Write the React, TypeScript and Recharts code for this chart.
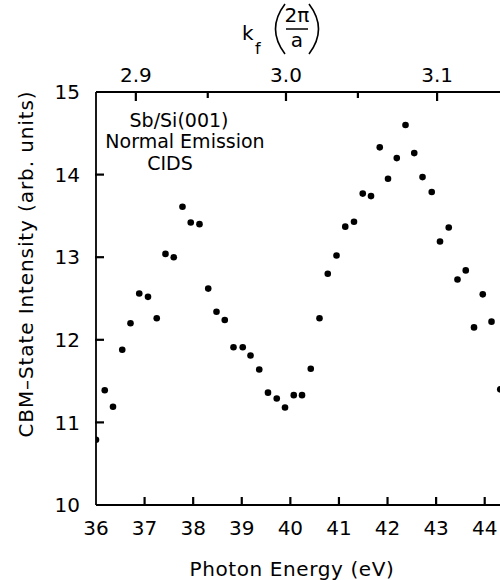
import React from 'react';
import { ScatterChart, Scatter, XAxis, YAxis } from 'recharts';

const photonEnergy = [
  36.0, 36.18, 36.35, 36.54, 36.71, 36.89, 37.07, 37.25, 37.43, 37.6, 37.78, 37.95,
  38.13, 38.31, 38.48, 38.65, 38.83, 39.02, 39.18, 39.36, 39.54, 39.72, 39.89, 40.07,
  40.24, 40.42, 40.6, 40.77, 40.95, 41.13, 41.31, 41.49, 41.66, 41.84, 42.01, 42.19,
  42.37, 42.55, 42.72, 42.91, 43.08, 43.26, 43.44, 43.61, 43.78, 43.96, 44.14, 44.32,
];
const intensity = [
  10.79, 11.39, 11.19, 11.88, 12.2, 12.56, 12.52, 12.26, 13.04, 13.0, 13.61, 13.42,
  13.4, 12.62, 12.34, 12.24, 11.91, 11.91, 11.81, 11.64, 11.36, 11.29, 11.18, 11.33,
  11.33, 11.65, 12.26, 12.8, 13.02, 13.37, 13.43, 13.77, 13.74, 14.33, 13.95, 14.2,
  14.6, 14.26, 13.97, 13.79, 13.19, 13.36, 12.73, 12.84, 12.15, 12.55, 12.22, 11.4,
];
const bottomTicks = [36, 37, 38, 39, 40, 41, 42, 43, 44];
const leftTicks = [10, 11, 12, 13, 14, 15];
// k_f axis ticks (positions expressed in photon energy), majors labelled, minors blank
const kTickEnergy = [36.82, 38.3, 39.91, 41.39, 43.02];
const kTickLabels = ['2.9', '', '3.0', '', '3.1'];
const annotationLines = ['Sb/Si(001)', 'Normal Emission', 'CIDS'];

const data = photonEnergy.map((e, i) => ({ e, v: intensity[i] }));

const FONT = 'DejaVu Sans';
const X_DOMAIN: [number, number] = [36, 44.5];
const Y_DOMAIN: [number, number] = [10, 15];
const BOTTOM_MARGIN = 16;
const TOP_MARGIN = 10;
const LEFT_MARGIN = 16;
const TICK_W = 2.2;

const renderDot = (props: any) => (
  <circle cx={props.cx} cy={props.cy} r={3.3} fill="#000" />
);
const renderNothing = () => <g />;

const BottomTick = (props: any) => {
  const { x, y, payload } = props;
  const axisY = y - BOTTOM_MARGIN;
  const showLine = payload.value !== X_DOMAIN[0];
  return (
    <g>
      {showLine && <line x1={x} x2={x} y1={axisY + 1} y2={axisY - 8} stroke="#000" strokeWidth={TICK_W} />}
      <text x={x} y={y + 14.2} textAnchor="middle" fontFamily={FONT} fontSize={20} fill="#000">
        {payload.value}
      </text>
    </g>
  );
};

const TopTick = (props: any) => {
  const { x, y, payload } = props;
  const axisY = y + TOP_MARGIN;
  const label = kTickLabels[kTickEnergy.indexOf(payload.value)] ?? '';
  const len = label ? 9 : 6;
  return (
    <g>
      <line x1={x} x2={x} y1={axisY - 1} y2={axisY + len} stroke="#000" strokeWidth={TICK_W} />
      <text x={x} y={y} textAnchor="middle" fontFamily={FONT} fontSize={20} fill="#000">
        {label}
      </text>
    </g>
  );
};

const LeftTick = (props: any) => {
  const { x, y, payload } = props;
  const axisX = x + LEFT_MARGIN;
  const showLine = payload.value !== Y_DOMAIN[0] && payload.value !== Y_DOMAIN[1];
  return (
    <g>
      {showLine && <line x1={axisX - 1} x2={axisX + 8} y1={y} y2={y} stroke="#000" strokeWidth={TICK_W} />}
      <text x={x} y={y + 7.1} textAnchor="end" fontFamily={FONT} fontSize={20} fill="#000">
        {payload.value}
      </text>
    </g>
  );
};

const topTitle = () => (
  <g fontFamily={FONT} fill="#000">
    <text x={242} y={40} fontSize={20}>k</text>
    <text x={255} y={54} fontSize={16}>f</text>
    <path d="M285,4 Q266,29 285,54" fill="none" stroke="#000" strokeWidth={1.6} />
    <text x={297} y={22} fontSize={20} textAnchor="middle">2π</text>
    <line x1={286} x2={308} y1={29} y2={29} stroke="#000" strokeWidth={1.5} />
    <text x={297} y={47} fontSize={20} textAnchor="middle">a</text>
    <path d="M309,4 Q328,29 309,54" fill="none" stroke="#000" strokeWidth={1.6} />
    <text x={179} y={127} fontSize={19} textAnchor="middle">{annotationLines[0]}</text>
    <text x={185} y={148} fontSize={19} textAnchor="middle">{annotationLines[1]}</text>
    <text x={170} y={170} fontSize={19} textAnchor="middle">{annotationLines[2]}</text>
  </g>
);

const bottomTitle = () => (
  <text x={292} y={576} textAnchor="middle" fontFamily={FONT} fontSize={20} letterSpacing={0.6} fill="#000">
    Photon Energy (eV)
  </text>
);

const leftTitle = () => (
  <text
    transform="translate(33,264) rotate(-90)"
    textAnchor="middle"
    fontFamily={FONT}
    fontSize={20}
    letterSpacing={0.9}
    fill="#000"
  >
    CBM–State Intensity (arb. units)
  </text>
);

const axisLineStyle = { stroke: '#000', strokeWidth: 1.8 };

export default function App() {
  return (
    <div style={{ position: 'absolute', left: 0, top: 0, width: 500, height: 580, overflow: 'hidden', background: '#fff' }}>
      <ScatterChart width={509} height={580} margin={{ top: 42, right: 0, bottom: 25, left: 16 }}>
        <XAxis
          xAxisId="bottom"
          dataKey="e"
          type="number"
          domain={X_DOMAIN}
          allowDataOverflow
          ticks={bottomTicks}
          interval={0}
          height={50}
          tickSize={0}
          tickLine={false}
          tickMargin={BOTTOM_MARGIN}
          axisLine={axisLineStyle}
          tick={BottomTick}
          label={bottomTitle}
        />
        <XAxis
          xAxisId="top"
          dataKey="e"
          orientation="top"
          type="number"
          domain={X_DOMAIN}
          allowDataOverflow
          ticks={kTickEnergy}
          interval={0}
          height={50}
          tickSize={0}
          tickLine={false}
          tickMargin={TOP_MARGIN}
          axisLine={axisLineStyle}
          tick={TopTick}
          label={topTitle}
        />
        <YAxis
          yAxisId="left"
          dataKey="v"
          type="number"
          domain={Y_DOMAIN}
          allowDataOverflow
          ticks={leftTicks}
          interval={0}
          width={80}
          tickSize={0}
          tickLine={false}
          tickMargin={LEFT_MARGIN}
          axisLine={axisLineStyle}
          tick={LeftTick}
          label={leftTitle}
        />
        <Scatter
          data={data}
          xAxisId="top"
          yAxisId="left"
          dataKey="v"
          shape={renderNothing}
          legendType="none"
          isAnimationActive={false}
        />
        <Scatter
          data={data}
          xAxisId="bottom"
          yAxisId="left"
          dataKey="v"
          fill="#000"
          shape={renderDot}
          isAnimationActive={false}
        />
      </ScatterChart>
    </div>
  );
}
